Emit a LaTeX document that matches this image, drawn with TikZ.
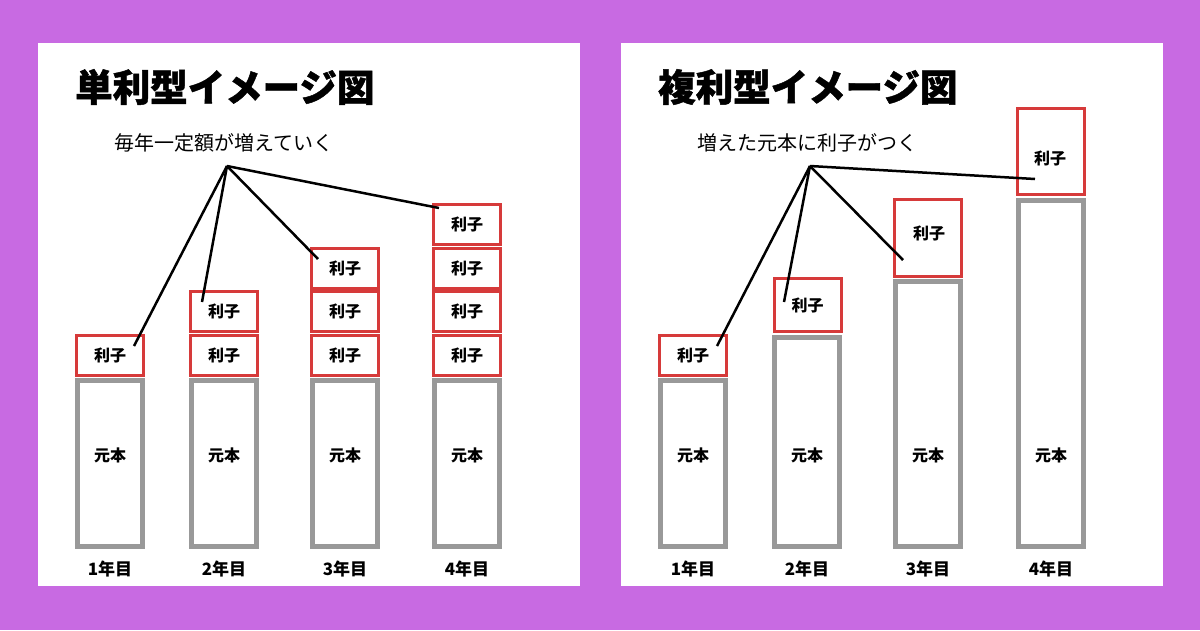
\documentclass[tikz,border=0pt]{standalone}
\usepackage{fontspec}
\setmainfont{Noto Sans CJK JP}
\newfontfamily\titlefont{Noto Sans CJK JP}[BoldFeatures={FakeBold=1.2}]
\definecolor{bgpurple}{HTML}{C86AE2}
\definecolor{boxred}{HTML}{D63A3A}
\definecolor{bargray}{HTML}{999999}
\tikzset{
  panel/.style={fill=white},
  principal/.style={draw=bargray, line width=5pt, fill=white, minimum width=65pt, inner sep=0pt},
  interest/.style={draw=boxred, line width=3pt, fill=white, minimum width=67pt, minimum height=40pt, inner sep=0pt, font=\bfseries\fontsize{16}{16}\selectfont},
  plabel/.style={inner sep=0pt, font=\bfseries\fontsize{16}{16}\selectfont},
  ylabel/.style={inner sep=0pt, font=\bfseries\fontsize{17}{17}\selectfont},
  ttl/.style={anchor=west, inner sep=0pt, font=\titlefont\bfseries\fontsize{37.5}{37.5}\selectfont},
  subttl/.style={anchor=west, inner sep=0pt, font=\fontsize{20}{20}\selectfont},
  pointer/.style={black, line width=2.5pt}
}
\begin{document}
\begin{tikzpicture}[x=1pt,y=-1pt]
\fill[bgpurple] (0,0) rectangle (1200,630);
\useasboundingbox (0,0) rectangle (1200,630);
\fill[panel] (38,43) rectangle (580,586);
\fill[panel] (621,43) rectangle (1163,586);

% ---------- left panel ----------
\node[ttl] (Lt) at (75,87) {単利型イメージ図};
\node[subttl] (Ls) at (114,143) {毎年一定額が増えていく};
\coordinate (La) at (227,166);

\foreach \i/\x in {1/110,2/224,3/345,4/467}{
  \node[principal, minimum height=166pt] (Lb\i) at (\x,463.5) {};
  \node[plabel] (Lp\i) at (\x,455) {元本};
  \node[ylabel] (Ly\i) at (\x,569) {\i 年目};
}
\node[interest] (L1a) at (110,355) {利子};
\node[interest] (L2a) at (224,355) {利子};
\node[interest] (L2b) at (224,311.5) {利子};
\node[interest] (L3a) at (345,355) {利子};
\node[interest] (L3b) at (345,311.5) {利子};
\node[interest] (L3c) at (345,268) {利子};
\node[interest] (L4a) at (467,355) {利子};
\node[interest] (L4b) at (467,311.5) {利子};
\node[interest] (L4c) at (467,268) {利子};
\node[interest] (L4d) at (467,224.5) {利子};

\coordinate (Le1) at (134,346);
\coordinate (Le2) at (202,302);
\coordinate (Le3) at (318,259);
\coordinate (Le4) at (439,208);
\foreach \i in {1,2,3,4}{\draw[pointer] (La) -- (Le\i);}

% ---------- right panel ----------
\node[ttl] (Rt) at (658,87) {複利型イメージ図};
\node[subttl] (Rs) at (697,143) {増えた元本に利子がつく};
\coordinate (Ra) at (810,166);

\node[principal, minimum height=166pt] (Rb1) at (693,463.5) {};
\node[principal, minimum height=209pt] (Rb2) at (807,442) {};
\node[principal, minimum height=265pt] (Rb3) at (928,414) {};
\node[principal, minimum height=346pt] (Rb4) at (1051,373.5) {};
\foreach \i/\x in {1/693,2/807,3/928,4/1051}{
  \node[plabel] (Rp\i) at (\x,455) {元本};
  \node[ylabel] (Ry\i) at (\x,569) {\i 年目};
}
\node[interest] (R1a) at (693,355.5) {利子};
\node[interest, minimum height=53pt] (R2a) at (807.5,305) {利子};
\node[interest, minimum height=77pt] (R3a) at (928,238) {};
\node[plabel] (R3t) at (929,233) {利子};
\node[interest, minimum height=86pt] (R4a) at (1050.5,151.5) {};
\node[plabel] (R4t) at (1050,158) {利子};

\coordinate (Re1) at (717,346);
\coordinate (Re2) at (784,302);
\coordinate (Re3) at (903,260);
\coordinate (Re4) at (1035,179);
\foreach \i in {1,2,3,4}{\draw[pointer] (Ra) -- (Re\i);}
\end{tikzpicture}
\end{document}
